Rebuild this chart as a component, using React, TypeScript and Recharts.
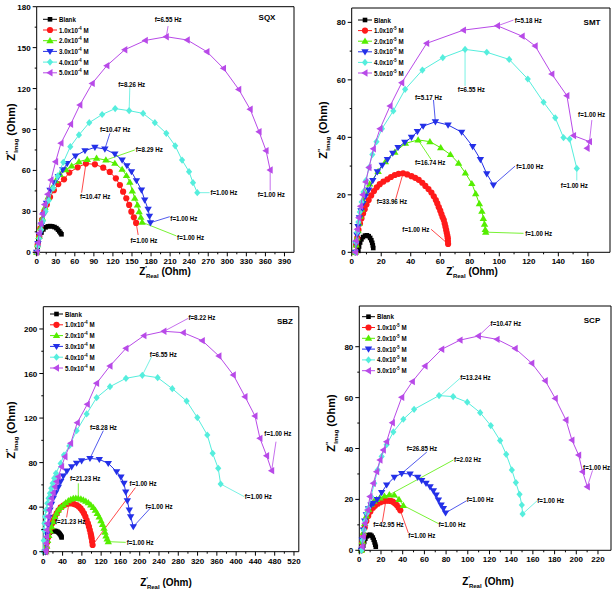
import React from 'react';
import { ComposedChart, Scatter, XAxis, YAxis, ReferenceLine } from 'recharts';

type Pt = [number, number];
interface Note { t: string; c: number; at: Pt; end: Pt; pos: Pt }

// ---- SQX ----
const sqxBlank: Pt[] = [[0, 0], [1.5, 4], [3, 8], [5, 11.5], [7.5, 14.5], [10.5, 16.8], [14, 18.3], [17.5, 19], [21, 19.2], [24.5, 19], [28, 18.5], [31, 17.7], [33.5, 16.6], [35.5, 15.4], [37.5, 14.2], [39, 13.2]];
const sqxC1: Pt[] = [[0, 0], [1.5, 5.4], [3.7, 11.5], [5.8, 17.6], [8.4, 23.7], [12, 29.8], [16, 35], [21, 40.5], [27, 45.5], [34, 50], [43, 53.5], [51.3, 58.4], [64.4, 62.3], [77.5, 65], [91.6, 64.5], [104.7, 62], [115, 58.9], [124.6, 54.2], [131, 49.3], [136, 44.4], [141, 39.6], [145.5, 34.7], [149, 29.8], [152.9, 25.6], [156.5, 21.5]];
const sqxC2: Pt[] = [[0, 0], [1.5, 5.5], [3.5, 11.5], [6, 18], [9, 25], [13, 33], [18, 40.5], [24, 47], [30, 52.5], [37, 57], [46, 60.5], [55, 63.3], [66.5, 66.4], [79.6, 68.1], [94.2, 68.9], [108.9, 67.6], [123, 65.2], [134.5, 60.8], [141.3, 56.2], [146.6, 51.3], [150.5, 45], [154.4, 39.6], [158.6, 34.7], [161.2, 29.8], [163.9, 25.6], [166, 22]];
const sqxC3: Pt[] = [[0, 0], [2, 6.5], [4.5, 13], [7.5, 20], [11, 27.5], [15.5, 36], [21, 45.5], [27.5, 51], [34, 55.5], [41, 60.5], [48, 65], [61, 70.6], [76, 74.5], [91.6, 76.9], [107.3, 75.7], [123, 72], [134.5, 67.6], [142, 63.5], [149.2, 59.1], [157, 52.5], [164.9, 45.7], [170, 38.3], [175.4, 31.5], [177.5, 26.5], [179, 21.7]];
const sqxC4: Pt[] = [[0, 0], [2, 4.5], [4, 10], [7, 16.5], [10, 23], [14, 30], [19, 38], [26, 47], [33, 56], [41.9, 66], [52.9, 77.4], [66.5, 86], [82.7, 95], [103, 101], [123.5, 105.3], [145.5, 103.8], [167.5, 101.8], [186, 95], [204, 87.2], [218, 78], [228.8, 67.6], [239.8, 59.1], [246, 51], [252.8, 43.7]];
const sqxC5: Pt[] = [[0, 0], [2, 7], [4, 14], [6.5, 21], [9, 28], [12.5, 35], [17.3, 42.5], [22.5, 53], [29.8, 66.4], [38.2, 80], [53.4, 93.8], [68, 108], [87.4, 123.8], [110.5, 136.8], [138.7, 148.5], [171, 155.3], [204, 158], [237, 155.6], [268, 147], [294, 134.8], [318, 119.4], [336, 104.8], [350, 88.4], [361, 74.5], [367.5, 60.3]];
const sqxNotes: Note[] = [
  { t: 'f=6.55 Hz', c: 5, at: [204, 158], end: [206.8, 165.8], pos: [185.8, 170.7] },
  { t: 'f=8.26 Hz', c: 4, at: [145.5, 103.8], end: [146.6, 120.9], pos: [128.3, 123.3] },
  { t: 'f=10.47 Hz', c: 3, at: [107.3, 75.7], end: [115.2, 87.2], pos: [99.5, 90.1] },
  { t: 'f=8.29 Hz', c: 2, at: [108.9, 67.6], end: [154.4, 75], pos: [156, 75.5] },
  { t: 'f=10.47 Hz', c: 1, at: [77.5, 65], end: [70.7, 43.7], pos: [68, 40.8] },
  { t: 'f=1.00 Hz', c: 4, at: [252.8, 43.7], end: [272.2, 43.7], pos: [273.5, 43.7] },
  { t: 'f=1.00 Hz', c: 5, at: [367.5, 60.3], end: [367.5, 45.2], pos: [348, 42] },
  { t: 'f=1.00 Hz', c: 3, at: [179, 21.7], end: [209.4, 26.1], pos: [210.4, 24.9] },
  { t: 'f=1.00 Hz', c: 2, at: [166, 22], end: [219.9, 12], pos: [221, 11] },
  { t: 'f=1.00 Hz', c: 1, at: [156.5, 21.5], end: [159.7, 12.7], pos: [147.6, 9] },
];

// ---- SMT ----
const smtBlank: Pt[] = [[4.5, 0.5], [5, 2], [5.7, 3.4], [6.6, 4.5], [7.7, 5.3], [9, 5.8], [10.3, 5.9], [11.5, 5.6], [12.5, 5], [13.3, 4.2], [13.9, 3.3], [14.3, 2.4], [14.6, 1.5]];
const smtC1: Pt[] = [[2.5, 0], [3, 2.5], [3.8, 5], [4.6, 7.8], [5.6, 10], [6.6, 11.8], [7.7, 13.5], [8.8, 15], [10, 16.6], [11.5, 18.2], [13.2, 19.8], [15.1, 21.3], [17, 22.6], [19, 23.7], [21.5, 24.6], [24.2, 25.4], [26.6, 26.2], [29.2, 26.9], [31.8, 27.3], [34.8, 27.5], [37.6, 27.1], [40.5, 26.5], [43, 25.9], [45.4, 25.2], [47.8, 24.2], [49.9, 23.1], [52, 22], [54, 20.8], [55.6, 19.5], [57, 18.2], [58, 17], [59, 15.7], [60, 14.5], [60.8, 13.3], [61.6, 12.2], [62.4, 11.2], [63, 10], [63.5, 8.9], [64, 7.8], [64.4, 6.8], [64.8, 5.8], [65.1, 4.9], [65.2, 3.9], [65.3, 2.9]];
const smtC2: Pt[] = [[2.5, 0], [3, 2.5], [3.6, 5], [4.3, 7.5], [5, 10], [5.8, 12.5], [6.6, 15], [7.6, 18], [8.8, 21.1], [12.2, 23.8], [17.9, 28.1], [22.8, 31.5], [29.2, 34.8], [36.4, 37.9], [45, 39.1], [53, 38.5], [60.3, 36.4], [66.9, 34], [72.4, 31], [77, 27.6], [81.4, 23.9], [84, 20.4], [86.5, 16.9], [88.2, 14.3], [89.2, 11.8], [90, 9.8], [90.5, 7.9], [90.8, 7]];
const smtC3: Pt[] = [[2.5, 0], [3, 3], [3.6, 6], [4.3, 9], [5.2, 12], [6.3, 14.5], [7.6, 17], [9.3, 19.5], [11.5, 21.7], [14.3, 25], [17.4, 28], [20.7, 30.3], [24.2, 32.3], [27.8, 34.5], [31.4, 36.5], [36, 38.3], [40.5, 40], [44.5, 42], [48.4, 43.9], [56.7, 45.4], [65.3, 44.3], [74.5, 41.8], [82, 36.8], [87.2, 32.3], [91.5, 27.3], [96, 23.4]];
const smtC4: Pt[] = [[2.5, 0], [3, 3.5], [3.7, 7], [4.5, 10.5], [5.5, 14], [6.7, 17.5], [8, 21], [9.7, 25], [11.7, 29.5], [14, 34], [16.8, 38.5], [20.5, 43], [28.2, 49.2], [36.2, 56.7], [47.9, 63.4], [61.7, 67.7], [76.8, 70.6], [91.5, 69.6], [106.7, 67.1], [119.3, 60.3], [130, 52.2], [137.9, 46.8], [143.5, 39.9], [147.6, 39.4], [152.5, 29.2]];
const smtC5: Pt[] = [[2.5, 0], [3, 4], [3.8, 8], [4.8, 12], [6, 16], [7.5, 20], [9.5, 24.5], [11.7, 29.5], [14.7, 36], [19.2, 43], [26, 50.9], [33.9, 59], [50.8, 72.7], [75.7, 77.3], [98.8, 78.8], [115.5, 75.2], [124.3, 71.8], [135.6, 62], [145.8, 54.5], [150.3, 40.6], [161.1, 38.5], [159.5, 36.2]];
const smtNotes: Note[] = [
  { t: 'f=5.18 Hz', c: 5, at: [98.8, 78.8], end: [109.6, 80.8], pos: [110.5, 80.7] },
  { t: 'f=6.55 Hz', c: 4, at: [76.8, 70.6], end: [76.8, 57.9], pos: [71.9, 56.7] },
  { t: 'f=5.17 Hz', c: 3, at: [56.7, 45.4], end: [55.4, 53], pos: [42.9, 53.8] },
  { t: 'f=16.74 Hz', c: 2, at: [45, 39.1], end: [53.8, 32.3], pos: [42.9, 31.2] },
  { t: 'f=33.96 Hz', c: 1, at: [34.8, 27.5], end: [29.8, 18.5], pos: [16.9, 17.6] },
  { t: 'f=1.00 Hz', c: 1, at: [65.3, 2.9], end: [53.8, 8], pos: [34.3, 8] },
  { t: 'f=1.00 Hz', c: 2, at: [90.8, 7], end: [116.4, 6.6], pos: [117.5, 6.6] },
  { t: 'f=1.00 Hz', c: 3, at: [96, 23.4], end: [110.7, 30], pos: [111.5, 29.8] },
  { t: 'f=1.00 Hz', c: 4, at: [152.5, 29.2], end: [152.5, 25], pos: [141.7, 23.2] },
  { t: 'f=1.00 Hz', c: 5, at: [161.1, 38.5], end: [162.7, 46], pos: [153.4, 47.8] },
];

// ---- SBZ ----
const sbzBlank: Pt[] = [[7, 12], [8.5, 14], [10.5, 15.8], [13, 17], [16, 17.9], [19.5, 18.5], [23, 18.7], [26.5, 18.5], [29.5, 17.9], [32, 17], [34, 16], [35.8, 14.9], [37.2, 13.8], [38, 12.8]];
const sbzC1: Pt[] = [[5.5, 0], [6.5, 4], [8, 8.5], [10, 13], [12.5, 17.5], [15.5, 21.5], [18.5, 25.5], [20.7, 28.4], [24, 31.5], [27.7, 34.4], [31.5, 37.2], [36, 39.8], [41.5, 41.5], [47, 42.8], [53, 43.3], [58.8, 43.4], [64, 42.8], [69.2, 41.9], [73.5, 40.5], [77.4, 38.9], [81, 36.8], [84.4, 34.4], [87.3, 31.5], [89.9, 28.4], [92.5, 25.5], [94.7, 22.5], [96.5, 19.5], [98.2, 16.5], [99.3, 14.2], [100.3, 12], [101.3, 9], [102.3, 6]];
const sbzC2: Pt[] = [[5.5, 0], [7, 5], [9, 10], [11.5, 14.5], [14.5, 18.5], [17.3, 22.5], [20.5, 27], [24.2, 31.4], [27.5, 34.5], [31.1, 37.4], [36, 39.8], [41.5, 41.9], [46.5, 44], [51.9, 45.8], [57, 47], [62.2, 47.9], [67.4, 48.1], [72.6, 47.9], [78, 47.3], [83, 46.4], [88.2, 45.3], [93.4, 44], [98.5, 42], [103.7, 39.8], [108, 37.2], [112, 34.4], [116, 31.2], [119.6, 27.8], [122.9, 24.5], [125.9, 21], [128, 17.5], [130, 14.1], [132.5, 11.5], [134.8, 9]];
const sbzC3: Pt[] = [[4, 0], [5.5, 8], [7.5, 16], [10, 24], [12, 31], [13.8, 37.4], [17, 42.5], [20.7, 47.9], [25.5, 53], [31.1, 57.8], [36, 63], [41.5, 68], [49, 72.5], [58.8, 76.3], [69, 79.5], [79.5, 81.7], [96.8, 83.8], [116.2, 82.9], [134.8, 79.3], [152.1, 71.9], [161, 67], [167.3, 61.4], [171, 53.5], [174.3, 45.8], [178.4, 37.4], [181.2, 31.4], [186.7, 22.5]];
const sbzC4: Pt[] = [[0.5, 0], [1, 10], [1.4, 19.5], [2.3, 25.5], [3.5, 31.4], [5.8, 37.5], [8.3, 43.4], [10.8, 48], [13.8, 52.4], [16.5, 57], [19.4, 61.4], [22.7, 66], [26.3, 70.4], [36, 79.3], [42.9, 86.8], [53.9, 94.9], [69.2, 108.7], [89.9, 123.7], [110.6, 138.3], [138.3, 148.2], [171.5, 155.7], [205.4, 158.4], [237.2, 156.3], [267.6, 146.4], [297.3, 135.3], [319.5, 120.4], [340.2, 104.8], [351.3, 88.3], [362.8, 74.9], [367.9, 60.8]];
const sbzC5: Pt[] = [[5, 0], [5.5, 1.5], [6.2, 7.5], [6.9, 13.5], [7.5, 19.5], [8.3, 25.4], [10, 31.5], [12.4, 37.4], [14.8, 42.7], [17.3, 47.9], [20.7, 53], [24.2, 58.4], [27.7, 63], [31.1, 67.4], [38, 76.3], [45, 85.3], [56.7, 97.3], [70.5, 115.9], [91.3, 132.3], [110.6, 151.2], [138.3, 166.8], [171.5, 182.6], [208.8, 194], [250.3, 197.9], [290.4, 196.7], [329.8, 189.5], [364.4, 175.7], [394.2, 158.7], [418.4, 139.2], [439.1, 121.9], [449.4, 101.8], [463.3, 86.2], [473.7, 72.8]];
const sbzNotes: Note[] = [
  { t: 'f=8.22 Hz', c: 5, at: [250.3, 197.9], end: [300.8, 209.6], pos: [301, 210] },
  { t: 'f=6.55 Hz', c: 4, at: [205.4, 158.4], end: [224.8, 175.2], pos: [221, 177] },
  { t: 'f=8.28 Hz', c: 3, at: [96.8, 83.8], end: [124.5, 108.7], pos: [96.8, 111.7] },
  { t: 'f=21.23 Hz', c: 2, at: [72.6, 47.9], end: [72.6, 61.4], pos: [55.3, 65.9] },
  { t: 'f=21.23 Hz', c: 1, at: [53, 43.3], end: [48.4, 30.8], pos: [24.2, 27] },
  { t: 'f=1.00 Hz', c: 1, at: [102.3, 6], end: [191, 57.5], pos: [179, 61.5] },
  { t: 'f=1.00 Hz', c: 3, at: [186.7, 22.5], end: [224.7, 40.4], pos: [212, 41] },
  { t: 'f=1.00 Hz', c: 4, at: [367.9, 60.8], end: [417, 49.4], pos: [418, 49.4] },
  { t: 'f=1.00 Hz', c: 2, at: [134.8, 9], end: [171, 8.4], pos: [173, 8.4] },
  { t: 'f=1.00 Hz', c: 5, at: [473.7, 72.8], end: [482.7, 98.8], pos: [458.5, 105.7] },
];

// ---- SCP ----
const scpBlank: Pt[] = [[3, 0.3], [3.6, 1.8], [4.5, 3.3], [5.6, 4.6], [7, 5.5], [8.5, 6], [10, 6.1], [11.3, 5.7], [12.4, 5], [13.3, 4.1], [14.1, 3.1], [14.7, 2.2], [15.2, 1.4]];
const scpC1: Pt[] = [[2, 0], [2.8, 3], [3.8, 6], [5, 9], [6.5, 11.5], [8.2, 13.5], [10.2, 15.2], [12.5, 16.7], [14.5, 17.5], [17, 18.3], [19.5, 18.9], [22.2, 19.3], [24.5, 19.5], [26.8, 19.5], [28.8, 19.4], [30.8, 19.1], [32.7, 18.5], [34.5, 17.8], [36.2, 16.8], [37.8, 15.7]];
const scpC2: Pt[] = [[2, 0], [2.8, 3.5], [3.8, 7], [5, 10.5], [6.5, 13.5], [8.5, 16], [11, 18], [13.5, 19.3], [16, 20], [19.1, 20.6], [23.2, 21.3], [27.7, 21.8], [32.3, 21.7], [36.6, 20], [40.6, 17.6]];
const scpC3: Pt[] = [[2, 0], [2.8, 4], [3.8, 8], [5, 11.5], [6.5, 14], [8.5, 16.3], [10.8, 17.8], [12.9, 18.5], [16.5, 20], [20.6, 22.7], [25.2, 25.7], [32.3, 28.7], [39.1, 30.2], [46.8, 30], [53.8, 28.7], [57.5, 27.4], [61.5, 26.3], [65.2, 25], [68.3, 23.4], [70.8, 21.7], [72.9, 19.8], [75.4, 17.8], [77.5, 16.4], [79.5, 14.7]];
const scpC4: Pt[] = [[2, 0], [3, 4], [4.2, 8], [5.5, 11.5], [7, 14.5], [8.3, 16.5], [10.8, 21.1], [13.8, 26.3], [16.9, 31.6], [20.6, 36.9], [25.2, 41.5], [31.4, 46.5], [40.6, 51.5], [50.5, 55.4], [73.5, 60.8], [86.5, 60.4], [99.5, 58.2], [111.4, 54.1], [121.2, 49], [129.8, 43.1], [135.4, 37.7], [140.6, 31.6], [144.3, 26.6], [147.7, 22], [149.8, 17.8], [150.5, 14.3]];
const scpC5: Pt[] = [[2.8, 1.4], [3.7, 5.4], [5.2, 10.6], [7.7, 15.8], [9.8, 21.1], [12.9, 26.3], [16, 30.9], [19.1, 35.5], [22.2, 39.4], [25.2, 42.7], [30.5, 50.1], [39.1, 60.1], [48.9, 66.3], [60.6, 72.4], [76, 79], [92.9, 82.6], [109.8, 84.2], [127, 82.9], [143.7, 79.3], [159, 73.5], [171.4, 66.6], [180.6, 59.7], [190.5, 51.2], [196, 43.3], [202.2, 37.4], [205.8, 30.9], [210.2, 25]];
const scpNotes: Note[] = [
  { t: 'f=10.47 Hz', c: 5, at: [109.8, 84.2], end: [121.2, 88.8], pos: [121, 89.2] },
  { t: 'f=13.24 Hz', c: 4, at: [74.5, 60.7], end: [92.9, 67.6], pos: [93, 67.8] },
  { t: 'f=26.85 Hz', c: 3, at: [39.1, 30.2], end: [62.2, 38.6], pos: [43.7, 39.9] },
  { t: 'f=2.02 Hz', c: 2, at: [27.7, 21.8], end: [86.8, 35.5], pos: [87.4, 35.7] },
  { t: 'f=42.95 Hz', c: 1, at: [24.5, 19.5], end: [21.2, 11], pos: [12.9, 10.2] },
  { t: 'f=1.00 Hz', c: 1, at: [37.8, 15.7], end: [45.2, 6.8], pos: [45.2, 5.8] },
  { t: 'f=1.00 Hz', c: 2, at: [40.6, 17.6], end: [72.9, 10.5], pos: [73, 10.2] },
  { t: 'f=1.00 Hz', c: 3, at: [79.5, 14.7], end: [99, 19.5], pos: [99, 20] },
  { t: 'f=1.00 Hz', c: 4, at: [150.5, 14.3], end: [164, 19.5], pos: [164, 19.5] },
  { t: 'f=1.00 Hz', c: 5, at: [210.2, 25], end: [215, 31.4], pos: [206.3, 32.5] },
];

const concentrations = ['1.0', '2.0', '3.0', '4.0', '5.0'];

const sqxXMajor = [0, 30, 60, 90, 120, 150, 180, 210, 240, 270, 300, 330, 360, 390];
const sqxYMajor = [0, 30, 60, 90, 120, 150, 180];
const smtXMajor = [0, 20, 40, 60, 80, 100, 120, 140, 160];
const smtYMajor = [0, 20, 40, 60, 80];
const sbzXMajor = [0, 40, 80, 120, 160, 200, 240, 280, 320, 360, 400, 440, 480, 520];
const sbzYMajor = [0, 40, 80, 120, 160, 200];
const scpXMajor = [0, 20, 40, 60, 80, 100, 120, 140, 160, 180, 200, 220];
const scpYMajor = [0, 20, 40, 60, 80];

const BOLD = "'Liberation Sans', Arial, sans-serif";
const COLORS = ['#000000', '#ff1a1a', '#55ee00', '#2430e8', '#55eedd', '#b84ae8'];
const SHAPES = ['square', 'circle', 'up', 'down', 'diamond', 'left'];

function withMinors(majors: number[]) {
  const out: number[] = [];
  majors.forEach((v, i) => {
    out.push(v);
    if (i < majors.length - 1) out.push((v + majors[i + 1]) / 2);
  });
  return out;
}

function marker(kind: string, x: number, y: number, color: string) {
  const s = 3.1;
  switch (kind) {
    case 'square':
      return <rect x={x - 2.3} y={y - 2.3} width={4.6} height={4.6} fill={color} />;
    case 'circle':
      return <circle cx={x} cy={y} r={s} fill={color} />;
    case 'up':
      return <polygon points={`${x},${y - s - 0.6} ${x - s - 0.6},${y + s - 0.6} ${x + s + 0.6},${y + s - 0.6}`} fill={color} />;
    case 'down':
      return <polygon points={`${x},${y + s + 0.6} ${x - s - 0.6},${y - s + 0.6} ${x + s + 0.6},${y - s + 0.6}`} fill={color} />;
    case 'diamond':
      return <polygon points={`${x},${y - s - 0.5} ${x + s},${y} ${x},${y + s + 0.5} ${x - s},${y}`} fill={color} />;
    default:
      return <polygon points={`${x - s - 0.6},${y} ${x + s - 0.6},${y - s - 0.6} ${x + s - 0.6},${y + s + 0.6}`} fill={color} />;
  }
}

// condensed bold label, like the narrow font of the original
function NarrowText({ x, y, children }: { x: number; y: number; children: React.ReactNode }) {
  return (
    <text transform={`translate(${x},${y}) scale(0.86,1)`} fontSize={7.2} fontWeight="bold" fontFamily={BOLD} fill="#000">
      {children}
    </text>
  );
}

const toObj = (pts: Pt[]) => pts.map(([x, y]) => ({ x, y }));

interface PanelCfg {
  left: number; top: number; width: number; height: number;
  margin: { top: number; right: number; bottom: number; left: number };
  xMax: number; yMax: number; xMajor: number[]; yMajor: number[];
  series: Pt[][]; notes: Note[];
}

const panels: PanelCfg[] = [
  { left: 0, top: 0, width: 300, height: 280, margin: { top: 6.7, right: 6, bottom: 7.7, left: 6.7 }, xMax: 405, yMax: 180, xMajor: sqxXMajor, yMajor: sqxYMajor, series: [sqxBlank, sqxC1, sqxC2, sqxC3, sqxC4, sqxC5], notes: sqxNotes },
  { left: 305, top: 0, width: 309, height: 280, margin: { top: 8, right: 4, bottom: 7.7, left: 16.7 }, xMax: 175, yMax: 85, xMajor: smtXMajor, yMajor: smtYMajor, series: [smtBlank, smtC1, smtC2, smtC3, smtC4, smtC5], notes: smtNotes },
  { left: 0, top: 290, width: 302, height: 302, margin: { top: 16.7, right: 3.2, bottom: 20.3, left: 13.3 }, xMax: 530, yMax: 220, xMajor: sbzXMajor, yMajor: sbzYMajor, series: [sbzBlank, sbzC1, sbzC2, sbzC3, sbzC4, sbzC5], notes: sbzNotes },
  { left: 305, top: 290, width: 309, height: 302, margin: { top: 16, right: 3, bottom: 21.7, left: 24.3 }, xMax: 232, yMax: 96, xMajor: scpXMajor, yMajor: scpYMajor, series: [scpBlank, scpC1, scpC2, scpC3, scpC4, scpC5], notes: scpNotes },
];

// overlay decorations: panel name, exponent, axis titles, legend box
const decor = [
  { name: 'SQX', exp: '-4', namePos: [267, 19.5], xt: [165, 275], yt: [11, 132], lg: [43, 57, 59, 19.3, 10.7] },
  { name: 'SMT', exp: '-5', namePos: [592, 25], xt: [472, 275], yt: [323, 130], lg: [358, 372, 374, 20, 10.6] },
  { name: 'SBZ', exp: '-4', namePos: [285, 324], xt: [166, 586], yt: [11, 430], lg: [50, 63, 65, 314, 10.8] },
  { name: 'SCP', exp: '-5', namePos: [592, 322.5], xt: [488, 585], yt: [331, 423], lg: [362, 375, 377, 316.7, 10.8] },
];

function Panel({ cfg }: { cfg: PanelCfg }) {
  const xTicks = withMinors(cfg.xMajor);
  const yTicks = withMinors(cfg.yMajor);
  return (
    <div style={{ position: 'absolute', left: cfg.left, top: cfg.top }}>
      <ComposedChart width={cfg.width} height={cfg.height} margin={cfg.margin}>
        <XAxis
          type="number" dataKey="x" domain={[0, cfg.xMax]}
          ticks={xTicks} interval={0} height={20} tickSize={0} tickMargin={0} tickLine={false}
          axisLine={{ stroke: '#000', strokeWidth: 1 }}
          tick={(p: any) => {
            const major = cfg.xMajor.includes(p.payload.value);
            return (
              <g>
                <line x1={p.x} x2={p.x} y1={p.y} y2={p.y + (major ? 4 : 2)} stroke="#000" />
                {major && (
                  <text x={p.x} y={p.y + 12} textAnchor="middle" fontSize={8} fontWeight="bold" fontFamily={BOLD} fill="#000">
                    {p.payload.value}
                  </text>
                )}
              </g>
            );
          }}
        />
        <YAxis
          type="number" dataKey="y" domain={[0, cfg.yMax]}
          ticks={yTicks} interval={0} width={30} tickSize={0} tickMargin={0} tickLine={false}
          axisLine={{ stroke: '#000', strokeWidth: 1 }}
          tick={(p: any) => {
            const major = cfg.yMajor.includes(p.payload.value);
            return (
              <g>
                <line x1={p.x - (major ? 4 : 2)} x2={p.x} y1={p.y} y2={p.y} stroke="#000" />
                {major && (
                  <text x={p.x - 6} y={p.y + 3} textAnchor="end" fontSize={8} fontWeight="bold" fontFamily={BOLD} fill="#000">
                    {p.payload.value}
                  </text>
                )}
              </g>
            );
          }}
        />
        <ReferenceLine y={cfg.yMax} stroke="#000" strokeWidth={1} />
        <ReferenceLine x={cfg.xMax} stroke="#000" strokeWidth={1} />
        {cfg.notes.map((n, i) => (
          <Scatter
            key={'l' + i}
            data={toObj([n.at, n.end])}
            line={{ stroke: COLORS[n.c], strokeWidth: 0.8 }}
            stroke={COLORS[n.c]}
            shape={() => <g />}
            isAnimationActive={false}
          />
        ))}
        {cfg.series.map((s, i) => (
          <Scatter
            key={'s' + i}
            data={toObj(s)}
            line={{ stroke: COLORS[i], strokeWidth: 1 }}
            stroke={COLORS[i]}
            shape={(p: any) => marker(SHAPES[i], p.cx, p.cy, COLORS[i])}
            isAnimationActive={false}
          />
        ))}
        {cfg.notes.map((n, i) => (
          <Scatter
            key={'t' + i}
            data={toObj([n.pos])}
            shape={(p: any) => <NarrowText x={p.cx} y={p.cy + 2.5}>{n.t}</NarrowText>}
            isAnimationActive={false}
          />
        ))}
      </ComposedChart>
    </div>
  );
}

function Decorations() {
  return (
    <svg width={614} height={592} style={{ position: 'absolute', left: 0, top: 0, pointerEvents: 'none' }}>
      {decor.map((d) => {
        const [lx0, lx1, tx, y0, dy] = d.lg;
        return (
          <g key={d.name}>
            <text x={d.namePos[0]} y={d.namePos[1]} textAnchor="middle" fontSize={8} fontWeight="bold" fontFamily={BOLD}>{d.name}</text>
            <text x={d.xt[0]} y={d.xt[1]} textAnchor="middle" fontSize={10} fontWeight="bold" fontFamily={BOLD}>
              <tspan>Z</tspan>
              <tspan dy={-4} fontSize={7}>'</tspan>
              <tspan dy={7} dx={-1} fontSize={6}>Real</tspan>
              <tspan dy={-3}> (Ohm)</tspan>
            </text>
            <text x={d.yt[0]} y={d.yt[1] + 4} transform={`rotate(-90 ${d.yt[0]} ${d.yt[1]})`} textAnchor="middle" fontSize={11} fontWeight="bold" fontFamily={BOLD}>
              <tspan>Z</tspan>
              <tspan dy={-4} fontSize={7}>''</tspan>
              <tspan dy={7} dx={-2} fontSize={6}>Imag</tspan>
              <tspan dy={-3}> (Ohm)</tspan>
            </text>
            {['Blank', ...concentrations].map((lab, i) => {
              const y = y0 + i * dy;
              return (
                <g key={lab}>
                  <line x1={lx0} x2={lx1} y1={y} y2={y} stroke={COLORS[i]} strokeWidth={1} />
                  {marker(SHAPES[i], (lx0 + lx1) / 2, y, COLORS[i])}
                  <NarrowText x={tx} y={y + 2.5}>
                    {i === 0 ? (
                      'Blank'
                    ) : (
                      <>
                        <tspan>{lab}x10</tspan>
                        <tspan dy={-3} fontSize={5}>{d.exp}</tspan>
                        <tspan dy={3}> M</tspan>
                      </>
                    )}
                  </NarrowText>
                </g>
              );
            })}
          </g>
        );
      })}
    </svg>
  );
}

export default function App() {
  return (
    <div style={{ position: 'absolute', left: 0, top: 0, width: 614, height: 592, background: '#fff' }}>
      {panels.map((cfg, i) => (
        <Panel key={i} cfg={cfg} />
      ))}
      <Decorations />
    </div>
  );
}
